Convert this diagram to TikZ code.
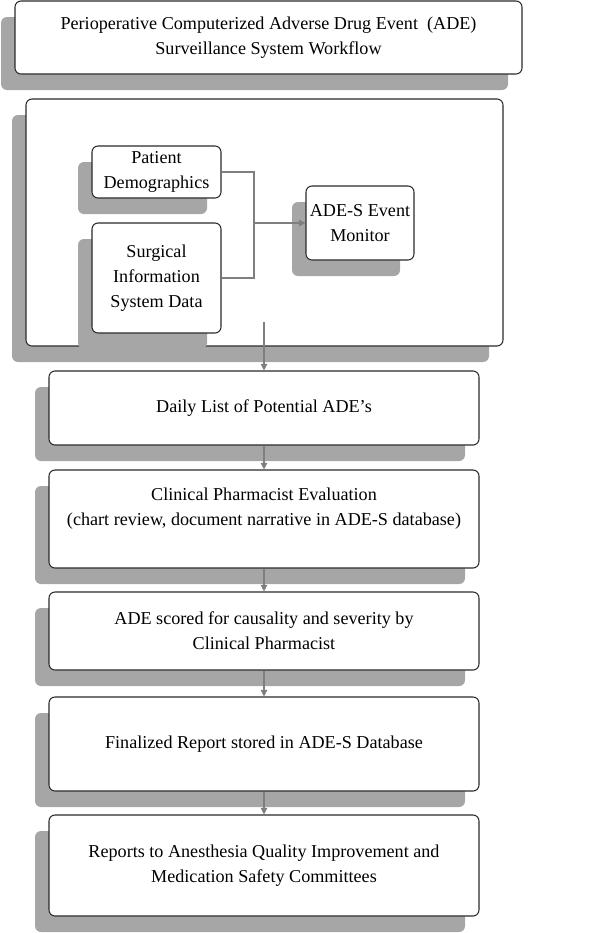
\documentclass[tikz,border=0pt]{standalone}
\usepackage{fontspec}
\setmainfont{Liberation Serif}
\usetikzlibrary{shadows,arrows.meta}
\definecolor{shadowgray}{HTML}{A6A6A6}
\definecolor{edgegray}{HTML}{2A2A2A}
\definecolor{linkgray}{HTML}{7F7F7F}
\begin{document}
\begin{tikzpicture}[x=0.75pt,y=-0.75pt,
  box/.style={draw=edgegray, line width=0.8pt, fill=white, rounded corners=4.5pt,
    inner sep=0pt, align=center, font=\fontsize{13.6pt}{18.75pt}\selectfont,
    drop shadow={shadow xshift=-10.5pt, shadow yshift=-12pt, fill=shadowgray, opacity=1}},
  link/.style={draw=linkgray, line width=0.8pt},
  arr/.style={link, -{Triangle[width=5pt,length=5pt]}, color=linkgray}]
\useasboundingbox (0,0) rectangle (600,933);
\node[box, minimum width=380.25pt, minimum height=54.75pt] (title) at (268.5,37.5)
  {Perioperative Computerized Adverse Drug Event~ (ADE)\\Surveillance System Workflow};
\node[box, minimum width=357.75pt, minimum height=185.25pt] (container) at (264.5,222.5) {};
\node[box, minimum width=96.75pt, minimum height=39pt] (patient) at (156.5,172)
  {Patient\\Demographics};
\node[box, minimum width=96.75pt, minimum height=82.5pt] (surgical) at (156.5,278)
  {Surgical\\Information\\System Data};
\node[box, minimum width=81pt, minimum height=55.5pt] (monitor) at (360,223)
  {ADE-S Event\\Monitor};
\node[box, minimum width=322.5pt, minimum height=55.5pt] (daily) at (264,408)
  {Daily List of Potential ADE’s};
\node[box, minimum width=322.5pt, minimum height=73.5pt] (clinical) at (264,519)
  {Clinical Pharmacist Evaluation\\(chart review, document narrative in ADE-S database)\\~};
\node[box, minimum width=322.5pt, minimum height=58.5pt] (scored) at (264,631)
  {ADE scored for causality and severity by\\Clinical Pharmacist};
\node[box, minimum width=322.5pt, minimum height=70.5pt] (final) at (264,744)
  {Finalized Report stored in ADE-S Database};
\node[box, minimum width=322.5pt, minimum height=75.75pt] (reports) at (264,865.5)
  {Reports to Anesthesia Quality Improvement and\\Medication Safety Committees};
% connectors
\coordinate (join) at (254,223);
\coordinate (start) at (264,322);
\draw[link] (patient.east) -- (join |- patient.east) -- (join |- surgical.east) -- (surgical.east);
\draw[arr] (join) -- (monitor.west);
\draw[arr] (start) -- (daily.north);
\draw[arr] (daily.south) -- (clinical.north);
\draw[arr] (clinical.south) -- (scored.north);
\draw[arr] (scored.south) -- (final.north);
\draw[arr] (final.south) -- (reports.north);
\end{tikzpicture}
\end{document}
